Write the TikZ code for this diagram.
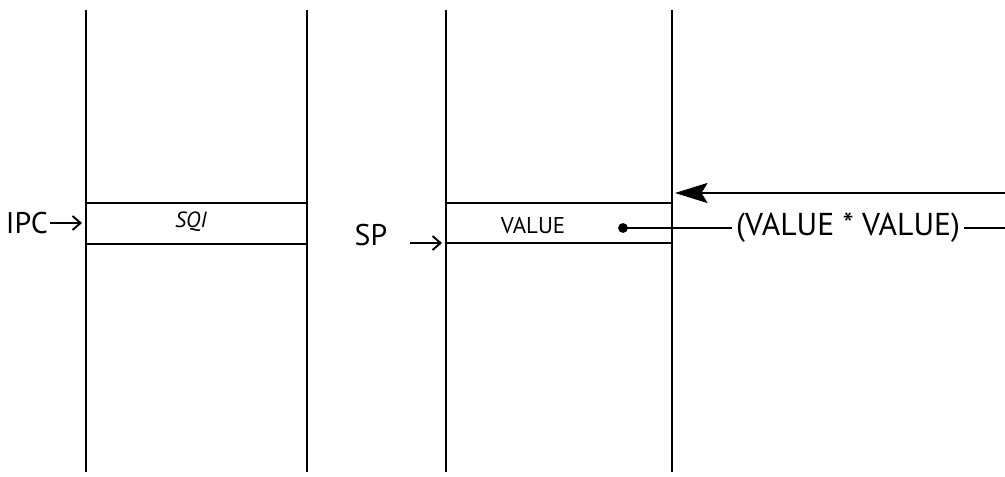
\documentclass[tikz,border=0pt]{standalone}
\usepackage{fontspec}
\setmainfont{PT Sans}
\usetikzlibrary{arrows.meta,positioning}
\tikzset{
  wall/.style={line width=1.1pt},
  slot/.style={line width=1.4pt},
  lbl/.style={inner sep=1pt,font=\fontsize{17}{19}\selectfont},
  cell/.style={inner sep=1pt,font=\fontsize{12.5}{14}\selectfont},
  ptr/.style={line width=1.1pt,-{Straight Barb[length=1.6mm,width=2.8mm]}}
}
\begin{document}
\begin{tikzpicture}
\useasboundingbox (0,0) rectangle (20.1,-9.54);
% Left column: instruction stream
\draw[wall] (1.72,-0.2) -- (1.72,-9.44);
\draw[wall] (6.14,-0.2) -- (6.14,-9.44);
\draw[slot] (1.72,-4.06) -- (6.14,-4.06);
\draw[slot] (1.72,-4.88) -- (6.14,-4.88);
\node[cell] (sqi) at (3.82,-4.44) {\textit{SQI}};
\node[lbl,anchor=east] (ipc) at (1.0,-4.46) {IPC};
\coordinate (ipctip) at (1.64,-4.46);
\draw[ptr] (ipc.east) -- (ipctip);
% Right column: stack
\draw[wall] (8.92,-0.2) -- (8.92,-9.44);
\draw[wall] (13.44,-0.2) -- (13.44,-9.44);
\draw[slot] (8.92,-4.06) -- (13.44,-4.06);
\draw[slot] (8.92,-4.86) -- (13.44,-4.86);
\node[cell,font=\fontsize{13}{15}\selectfont] (value) at (10.66,-4.52) {VALUE};
\node[lbl] (sp) at (7.42,-4.7) {SP};
\coordinate (sptail) at (8.2,-4.86);
\coordinate (sptip) at (8.84,-4.86);
\draw[ptr] (sptail) -- (sptip);
% Result pushed back onto the stack
\fill (12.46,-4.56) circle (2.8pt) coordinate (dot);
\node[lbl,inner sep=2pt,font=\fontsize{18}{20}\selectfont] (expr) at (16.96,-4.56) {(VALUE * VALUE)};
\coordinate (exprend) at (20.1,-4.56);
\draw[line width=1.3pt] (dot) -- (expr.west);
\draw[line width=1.3pt] (expr.east) -- (exprend);
\coordinate (inright) at (20.1,-3.86);
\coordinate (inleft) at (13.5,-3.86);
\draw[line width=1.4pt,-{Stealth[length=6.5mm,width=4mm,inset=1.2mm]}] (inright) -- (inleft);
\end{tikzpicture}
\end{document}
